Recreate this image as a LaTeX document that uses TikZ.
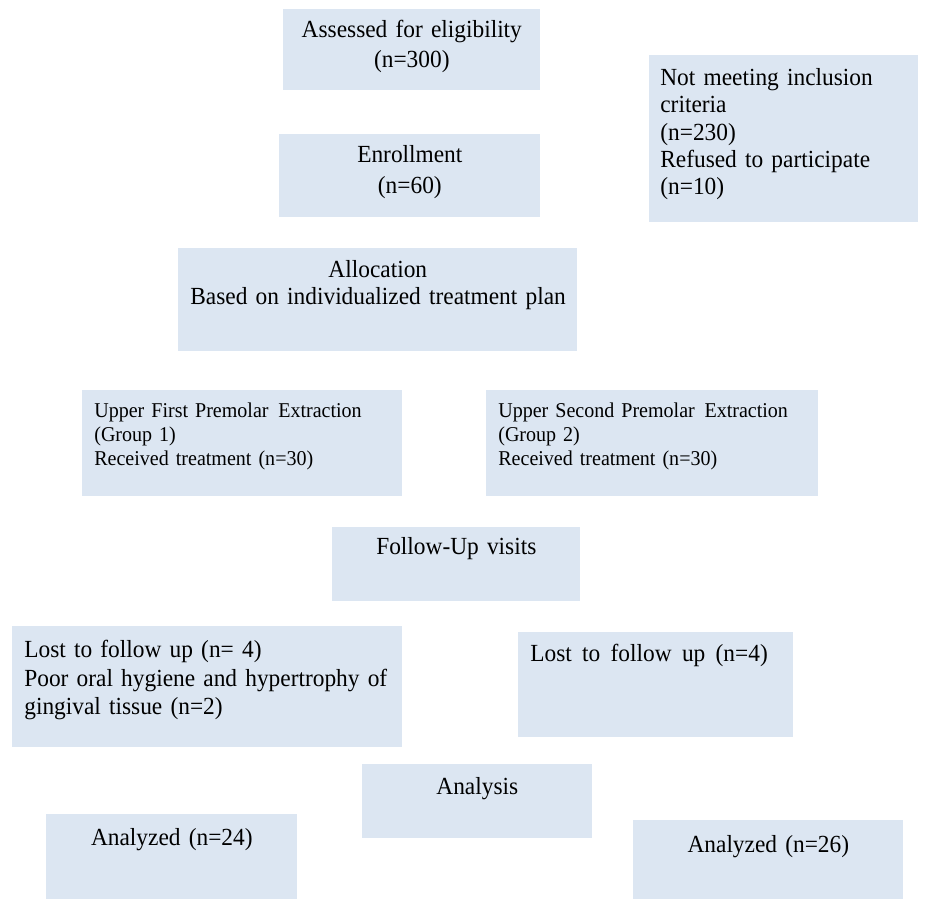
\documentclass[tikz,border=0pt]{standalone}
\usepackage{fontspec}
\setmainfont[FakeStretch=0.95]{Liberation Serif}
\usepackage{tikz}
\usepackage{xcolor}

\definecolor{boxblue}{RGB}{220,230,242}

\begin{document}
\begin{tikzpicture}[x=0.02cm, y=-0.02cm,
        box/.style={fill=boxblue, anchor=north west, inner xsep=0.24cm, inner ysep=0pt,
            font=\fontsize{14}{15.6}\selectfont},
        smallbox/.style={box, font=\fontsize{12}{13.7}\selectfont, align=left}]
                \useasboundingbox (0, 0) rectangle (926, 899);

                \node[box, align=center, text width=4.66cm, text height=0.56cm, text depth=1.06cm] (s_assess) at (283, 9) {Assessed for eligibility\\[1.4pt] (n=300)};
                \node[box, align=left, text width=4.94cm, text height=0.60cm, text depth=2.74cm, inner xsep=0.22cm] (s_excl) at (649, 55) {Not meeting inclusion\\ criteria\\ (n=230)\\ Refused to participate\\ (n=10)};
                \node[box, align=center, text width=4.74cm, text height=0.56cm, text depth=1.10cm] (s_enrol) at (279, 134) {Enrollment\\[2.4pt] (n=60)};
                \node[box, align=center, text width=7.50cm, text height=0.58cm, text depth=1.48cm] (s_alloc) at (178, 248) {Allocation\\ \mbox{Based on individualized treatment plan}};

                \node[smallbox, text width=5.92cm, text height=0.54cm, text depth=1.58cm] (g_one) at (82, 390) {\mbox{Upper First Premolar\hspace{1.5pt} Extraction}\\ (Group 1)\\ Received treatment (n=30)};
                \node[smallbox, text width=6.16cm, text height=0.54cm, text depth=1.58cm] (g_two) at (486, 390) {\mbox{Upper Second Premolar\hspace{1.5pt} Extraction}\\ (Group 2)\\ Received treatment (n=30)};

                \node[box, align=center, text width=4.48cm, text height=0.54cm, text depth=0.94cm] (s_follow) at (332, 527) {Follow-Up visits};
                \node[box, align=left, text width=7.32cm, text height=0.62cm, text depth=1.80cm] (g_lostone) at (12, 626) {Lost to follow up (n= 4)\\[0.8pt] \mbox{Poor oral hygiene and hypertrophy of}\\[0.8pt] gingival tissue (n=2)};
                \node[box, align=left, text width=5.02cm, text height=0.58cm, text depth=1.52cm] (g_losttwo) at (518, 632) {\mbox{Lost\hspace{1.2pt} to\hspace{1.2pt} follow\hspace{1.2pt} up\hspace{1.2pt} (n=4)}};

                \node[box, align=center, text width=4.12cm, text height=0.60cm, text depth=0.88cm] (s_analysis) at (362, 764) {Analysis};
                \node[box, align=center, text width=4.54cm, text height=0.62cm, text depth=1.08cm] (g_anone) at (46, 814) {Analyzed (n=24)};
                \node[box, align=center, text width=4.92cm, text height=0.64cm, text depth=0.94cm] (g_antwo) at (633, 820) {Analyzed (n=26)};
            \end{tikzpicture}
\end{document}
